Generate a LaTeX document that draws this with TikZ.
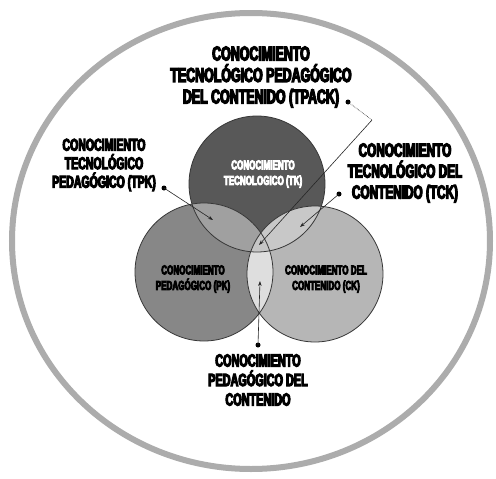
\documentclass[tikz,border=0pt]{standalone}
\usepackage{fontspec}
\usetikzlibrary{arrows.meta}
% heavy condensed face for all captions
\newfontfamily\lbl{Liberation Sans}[FakeStretch=0.62, BoldFeatures={FakeBold=6}]

\definecolor{ringc}{RGB}{172,172,172}
\definecolor{edgec}{RGB}{55,55,55}
\definecolor{tkc}{RGB}{88,88,88}
\definecolor{pkc}{RGB}{135,135,135}
\definecolor{ckc}{RGB}{182,182,182}
\definecolor{tpkc}{RGB}{160,160,160}
\definecolor{tckc}{RGB}{200,200,200}
\definecolor{pckc}{RGB}{222,222,222}
\definecolor{allc}{RGB}{198,198,198}

\tikzset{
  setbox/.style={circle, draw=edgec, line width=0.8pt, inner sep=0pt},
  captxt/.style={align=center, inner sep=0pt, font=\lbl\bfseries},
  intext/.style={align=center, inner sep=0pt, font=\lbl\bfseries\fontsize{13}{15.5}\selectfont},
  pindot/.style={circle, fill=black, inner sep=0pt, minimum size=5pt},
  leadline/.style={draw=black!85, line width=0.6pt, -{Stealth[length=5pt,width=3.5pt]}},
}

\begin{document}
\begin{tikzpicture}[x=1pt, y=-1pt]
\useasboundingbox (0,0) rectangle (496,479);
\fill[white] (0,0) rectangle (496,479);

% outer ring
\draw[ringc, line width=6pt] (251,241) ellipse [x radius=239, y radius=228];

% the three knowledge domains
\fill[tkc] (257,184) circle [radius=68];
\fill[pkc] (204,272) circle [radius=69];
\fill[ckc] (315,274) circle [radius=68];

% pairwise overlaps
\begin{scope}
  \clip (257,184) circle [radius=68];
  \fill[tpkc] (204,272) circle [radius=69];
  \fill[tckc] (315,274) circle [radius=68];
\end{scope}
\begin{scope}
  \clip (204,272) circle [radius=69];
  \fill[pckc] (315,274) circle [radius=68];
  \clip (257,184) circle [radius=68];
  \fill[allc] (315,274) circle [radius=68];
\end{scope}

% outlines
\node[setbox, minimum size=136pt] (tk) at (257,184) {};
\node[setbox, minimum size=138pt] (pk) at (204,272) {};
\node[setbox, minimum size=136pt] (ck) at (315,274) {};

% texts inside the domains
\node[intext, text=white] (tktxt) at (263,174) {CONOCIMIENTO\\TECNOLOGICO (TK)};
\node[intext] (pktxt) at (193,279) {CONOCIMIENTO\\PEDAGÓGICO (PK)};
\node[intext] (cktxt) at (326,279) {CONOCIMIENTO DEL\\CONTENIDO (CK)};

% outside captions
\node[captxt, font=\lbl\bfseries\fontsize{20}{21.5}\selectfont] (tpack) at (261,77)
  {CONOCIMIENTO\\TECNOLÓGICO PEDAGÓGICO\\DEL CONTENIDO (TPACK)};
\node[captxt, font=\lbl\bfseries\fontsize{17}{18.5}\selectfont] (tpk) at (104,165)
  {CONOCIMIENTO\\TECNOLÓGICO\\PEDAGÓGICO (TPK)};
\node[captxt, font=\lbl\bfseries\fontsize{19}{21}\selectfont] (tck) at (405,173)
  {CONOCIMIENTO\\TECNOLÓGICO DEL\\CONTENIDO (TCK)};
\node[captxt, font=\lbl\bfseries\fontsize{17.5}{19.5}\selectfont] (pck) at (258,380)
  {CONOCIMIENTO\\PEDAGÓGICO DEL\\CONTENIDO};

% dots beside the captions
\node[pindot] (tpackpin) at (348,102) {};
\node[pindot] (tpkpin) at (164,188) {};
\node[pindot] (tckpin) at (339,194) {};
\node[pindot] (pckpin) at (258,345) {};

% targets inside the overlaps
\coordinate (tpackbend) at (372,120);
\coordinate (tpackend) at (259,245);
\coordinate (tpkend) at (213,220);
\coordinate (tckend) at (300,227);
\coordinate (pckend) at (260,281);

% leader lines
\draw[black!85, line width=0.6pt, densely dotted] (tpackpin.center) -- (tpackbend);
\draw[leadline] (tpackbend) -- (tpackend);
\draw[leadline] (tpkpin.center) -- (tpkend);
\draw[leadline] (tckpin.center) -- (tckend);
\draw[leadline] (pckpin.center) -- (pckend);
\end{tikzpicture}
\end{document}
